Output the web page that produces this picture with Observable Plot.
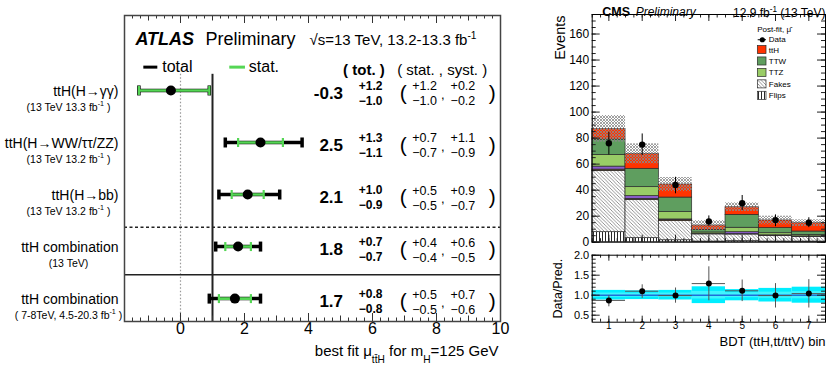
<!DOCTYPE html>
<html><head><meta charset="utf-8">
<script src="https://cdn.jsdelivr.net/npm/d3@7"></script>
<script src="https://cdn.jsdelivr.net/npm/@observablehq/plot@0.6"></script>
<style>
html,body{margin:0;padding:0;background:#fff;}
#wrap{position:relative;width:830px;height:376px;overflow:hidden;background:#fff;}
#wrap svg{position:absolute;overflow:visible;background:transparent;}
</style></head><body><div id="wrap"></div>
<script>
// ================= DATA =================
// ATLAS (left): best-fit signal strength per channel
const channels = ["ttH(H→γγ)", "ttH(H→WW/ττ/ZZ)", "ttH(H→bb)", "ttH combination", "ttH combination"];
const channelNotes = ["(13 TeV 13.3 fb^{-1} )", "(13 TeV 13.2 fb^{-1} )", "(13 TeV 13.2 fb^{-1} )", "(13 TeV)", "( 7-8TeV, 4.5-20.3 fb^{-1} )"];
const muBest = [-0.3, 2.5, 2.1, 1.8, 1.7];
const totUp = [1.2, 1.3, 1.0, 0.7, 0.8];
const totDown = [1.0, 1.1, 0.9, 0.7, 0.8];
const statUp = [1.2, 0.7, 0.5, 0.4, 0.5];
const statDown = [1.0, 0.7, 0.5, 0.4, 0.5];
const systUp = [0.2, 1.1, 0.9, 0.6, 0.7];
const systDown = [0.2, 0.9, 0.7, 0.5, 0.6];
const muTickLabels = [0, 2, 4, 6, 8, 10];

// CMS (right): post-fit yields per BDT bin
const bdtBins = [1, 2, 3, 4, 5, 6, 7];
const flips = [7.7, 3.1, 1.5, 0.5, 0.8, 0.5, 0.5];
const fakes = [47.1, 29.4, 14.7, 5.5, 5.1, 4.3, 3.6];
const rares = [1.0, 0.8, 1.0, 0.3, 0.3, 0.3, 0.2];
const others = [2.3, 2.1, 0.3, 0.2, 1.5, 0.2, 0.2];
const ttZ = [9.0, 6.9, 5.6, 1.0, 3.4, 1.6, 1.1];
const ttW = [11.8, 14.1, 11.2, 1.8, 9.9, 3.9, 2.6];
const ttH = [8.2, 11.5, 10.0, 3.5, 5.9, 5.9, 6.4];
const predUnc = [10.2, 7.7, 5.4, 3.7, 3.3, 3.3, 2.6];
const dataYield = [76, 75, 44, 16, 30, 17, 15];
const dataErrUp = [8.5, 8.2, 5.9, 4.2, 5.9, 4.0, 3.8];
const dataErrDown = [8.9, 8.4, 6.8, 3.8, 5.7, 5.1, 3.8];
const ratioVal = [0.87, 1.10, 0.99, 1.29, 1.11, 0.99, 1.04];
const ratioErrUp = [0.12, 0.16, 0.19, 0.42, 0.27, 0.30, 0.35];
const ratioErrDown = [0.16, 0.18, 0.19, 0.43, 0.27, 0.31, 0.36];
const ratioBand = [0.12, 0.11, 0.12, 0.21, 0.14, 0.17, 0.20];
const eventsTicks = [0, 20, 40, 60, 80, 100, 120, 140, 160];
const ratioTicks = [0.5, 1.0, 1.5, 2.0];
const legendNames = ["ttH", "TTW", "TTZ", "Fakes", "Flips"];

// ================= HELPERS =================
const FONT = "'Liberation Sans', Arial, Helvetica, sans-serif";
const wrap = document.getElementById("wrap");
const green = "#55d655";
const vbar = {draw(ctx, size) { const r = Math.sqrt(size / Math.PI); ctx.moveTo(0, -r); ctx.lineTo(0, r); }};
const fmtV = v => (v < 0 ? "-" : "") + Math.abs(v).toFixed(1);
const fmtU = v => "+" + v.toFixed(1);
const fmtD = v => "\u2212" + v.toFixed(1);

function place(svg, left, top) {
  svg.style.left = left + "px";
  svg.style.top = top + "px";
  wrap.appendChild(svg);
}
function richText(root) {
  root.querySelectorAll("text").forEach(el => {
    if (el.querySelector("tspan")) return;
    const t = el.textContent;
    if (!/[_^]\{/.test(t)) return;
    const fs = parseFloat(getComputedStyle(el).fontSize) || 12;
    el.textContent = "";
    const re = /([_^])\{([^}]*)\}/g;
    let last = 0, cur = 0, m;
    const add = (s, target, small) => {
      const ts = document.createElementNS("http://www.w3.org/2000/svg", "tspan");
      ts.textContent = s;
      const dy = target - cur;
      if (dy) ts.setAttribute("dy", dy);
      if (small) ts.setAttribute("font-size", fs * 0.68);
      cur = target;
      el.appendChild(ts);
    };
    while ((m = re.exec(t))) {
      if (m.index > last) add(t.slice(last, m.index), 0, false);
      add(m[2], m[1] === "_" ? fs * 0.5 : -fs * 0.45, true);
      last = re.lastIndex;
    }
    if (last < t.length) add(t.slice(last), 0, false);
  });
}

// ================= ATLAS PANEL =================
const rows = channels.map((c, i) => ({
  i, label: c, note: channelNotes[i], mu: muBest[i],
  tLo: muBest[i] - totDown[i], tHi: muBest[i] + totUp[i],
  sLo: muBest[i] - statDown[i], sHi: muBest[i] + statUp[i],
  tu: totUp[i], td: totDown[i], su: statUp[i], sd: statDown[i], yu: systUp[i], yd: systDown[i]
}));
const aFrameH = 376 - 15 - 55;
const quarterTicks = d3.range(-1.75, 10.001, 0.25);
const oddTicks = [-1, 1, 3, 5, 7, 9];
const textDy = 3;

const atlas = Plot.plot({
  width: 510, height: 376, marginLeft: 124, marginRight: 10, marginTop: 15, marginBottom: 55,
  x: {domain: [-1.75, 10], axis: null},
  y: {domain: [-1.44, 4.44], reverse: true, axis: null},
  style: {fontFamily: FONT, fontSize: "12px", color: "black", background: "transparent", overflow: "visible"},
  marks: [
    Plot.ruleX([0], {y1: -0.31, y2: 4.44, stroke: "#999", strokeWidth: 1.2, strokeDasharray: "1.5,2"}),
    Plot.ruleX([1], {y1: -0.31, y2: 4.44, stroke: "#222", strokeWidth: 2}),
    Plot.ruleY([2.63], {stroke: "#222", strokeWidth: 1.5, strokeDasharray: "3,2.5"}),
    Plot.ruleY([3.54], {stroke: "#222", strokeWidth: 1.5}),
    // total uncertainty
    Plot.ruleY(rows, {y: "i", x1: "tLo", x2: "tHi", stroke: "black", strokeWidth: 3.5}),
    Plot.dot(rows, {x: "tLo", y: "i", symbol: vbar, r: 5, fill: "none", stroke: "black", strokeWidth: 3.5}),
    Plot.dot(rows, {x: "tHi", y: "i", symbol: vbar, r: 5, fill: "none", stroke: "black", strokeWidth: 3.5}),
    // stat uncertainty
    Plot.ruleY(rows, {y: "i", x1: "sLo", x2: "sHi", stroke: green, strokeWidth: 2.6}),
    Plot.dot(rows, {x: "sLo", y: "i", symbol: vbar, r: 4.5, fill: "none", stroke: green, strokeWidth: 2.2}),
    Plot.dot(rows, {x: "sHi", y: "i", symbol: vbar, r: 4.5, fill: "none", stroke: green, strokeWidth: 2.2}),
    Plot.dot(rows, {x: "mu", y: "i", r: 5, fill: "black", stroke: "none"}),
    // row labels
    Plot.text(rows, {y: "i", text: "label", frameAnchor: "left", textAnchor: "end", dx: -6, dy: 1, fontSize: 14}),
    Plot.text(rows, {y: "i", text: "note", frameAnchor: "left", textAnchor: "middle", dx: -56, dy: 17, fontSize: 10.5}),
    // numeric columns
    Plot.text(rows, {x: 5.08, y: "i", text: d => fmtV(d.mu), textAnchor: "end", dy: textDy, fontSize: 17, fontWeight: "bold"}),
    Plot.text(rows, {x: 5.57, y: "i", text: d => fmtU(d.tu), textAnchor: "start", dy: textDy - 7, fontSize: 12, fontWeight: "bold"}),
    Plot.text(rows, {x: 5.57, y: "i", text: d => fmtD(d.td), textAnchor: "start", dy: textDy + 8, fontSize: 12, fontWeight: "bold"}),
    Plot.text(rows, {x: 6.96, y: "i", text: d => "(", dy: textDy, fontSize: 21}),
    Plot.text(rows, {x: 7.24, y: "i", text: d => fmtU(d.su), textAnchor: "start", dy: textDy - 7, fontSize: 12.5}),
    Plot.text(rows, {x: 7.24, y: "i", text: d => fmtD(d.sd), textAnchor: "start", dy: textDy + 8, fontSize: 12.5}),
    Plot.text(rows, {x: 8.2, y: "i", text: d => ",", dy: textDy + 1, fontSize: 13}),
    Plot.text(rows, {x: 8.44, y: "i", text: d => fmtU(d.yu), textAnchor: "start", dy: textDy - 7, fontSize: 12.5}),
    Plot.text(rows, {x: 8.44, y: "i", text: d => fmtD(d.yd), textAnchor: "start", dy: textDy + 8, fontSize: 12.5}),
    Plot.text(rows, {x: 9.74, y: "i", text: d => ")", dy: textDy, fontSize: 21}),
    // headers
    Plot.text(["ATLAS"], {x: -1.41, y: -0.98, text: d => d, textAnchor: "start", fontSize: 18, fontWeight: "bold", fontStyle: "italic"}),
    Plot.text(["Preliminary"], {x: 0.78, y: -0.98, text: d => d, textAnchor: "start", fontSize: 18}),
    Plot.text(["√s=13 TeV, 13.2-13.3 fb^{-1}"], {x: 4.03, y: -0.96, text: d => d, textAnchor: "start", fontSize: 15}),
    Plot.ruleY([-0.448], {x1: -1.146, x2: -0.709, stroke: "black", strokeWidth: 3}),
    Plot.text(["total"], {x: -0.572, y: -0.448, text: d => d, textAnchor: "start", fontSize: 16}),
    Plot.ruleY([-0.448], {x1: 1.54, x2: 2.03, stroke: green, strokeWidth: 3}),
    Plot.text(["stat."], {x: 2.135, y: -0.448, text: d => d, textAnchor: "start", fontSize: 16}),
    Plot.text(["( tot. )"], {x: 5.08, y: -0.384, text: d => d, textAnchor: "start", fontSize: 15, fontWeight: "bold"}),
    Plot.text(["( stat. , syst. )"], {x: 6.77, y: -0.384, text: d => d, textAnchor: "start", fontSize: 15}),
    // ticks
    Plot.ruleX(quarterTicks, {insetTop: aFrameH - 3.5, stroke: "#333"}),
    Plot.ruleX(quarterTicks, {insetBottom: aFrameH - 3.5, stroke: "#333"}),
    Plot.ruleX(oddTicks, {insetTop: aFrameH - 5.5, stroke: "#333"}),
    Plot.ruleX(oddTicks, {insetBottom: aFrameH - 5.5, stroke: "#333"}),
    Plot.ruleX(muTickLabels, {insetTop: aFrameH - 8, stroke: "#333"}),
    Plot.ruleX(muTickLabels, {insetBottom: aFrameH - 8, stroke: "#333"}),
    Plot.text(muTickLabels, {x: d => d, text: d => String(d), frameAnchor: "bottom", dy: 12, fontSize: 16}),
    Plot.text(["best fit μ_{tt̄H} for m_{H}=125 GeV"], {frameAnchor: "bottom-right", text: d => d, textAnchor: "end", dx: -2, dy: 34, fontSize: 15}),
    Plot.frame({stroke: "#444", strokeWidth: 1.5})
  ]
});
place(atlas, 0, 0);

// ================= CMS PANEL =================
const comps = [
  {name: "Flips", vals: flips, fill: "url(#pFlips)"},
  {name: "Fakes", vals: fakes, fill: "url(#pFakes)"},
  {name: "Rares", vals: rares, fill: "#7a4a1a"},
  {name: "Other", vals: others, fill: "#8a5cc8"},
  {name: "TTZ", vals: ttZ, fill: "#99cc66"},
  {name: "TTW", vals: ttW, fill: "#5f9e5f"},
  {name: "ttH", vals: ttH, fill: "#ff3300"}
];
const stackRows = [];
bdtBins.forEach((b, j) => {
  let base = 0;
  comps.forEach(c => { const v = c.vals[j]; stackRows.push({bin: b, comp: c.name, y1: base, y2: base + v}); base += v; });
});
const binRows = bdtBins.map((b, j) => ({
  bin: b, lo: b - 0.5, hi: b + 0.5,
  total: d3.sum(comps, c => c.vals[j]), unc: predUnc[j],
  data: dataYield[j], up: dataErrUp[j], dn: dataErrDown[j],
  ratio: ratioVal[j], rup: ratioErrUp[j], rdn: ratioErrDown[j], rband: ratioBand[j]
}));
const fillOf = Object.fromEntries(comps.map(c => [c.name, c.fill]));
const legendRows = legendNames.map((n, k) => ({name: n, y: 147.7 - k * 8.8, fill: fillOf[n]}));

const uFrameW = 310 - 71.7 - 5, uFrameH = 250 - 14 - 8.3;
const binQuarter = d3.range(0.5, 7.501, 0.25);
const evMinor = d3.range(0, 175.1, 5);

const upper = Plot.plot({
  width: 310, height: 250, marginLeft: 71.7, marginRight: 5, marginTop: 14, marginBottom: 8.3,
  x: {domain: [0.5, 7.5], axis: null},
  y: {domain: [0, 175], axis: null},
  style: {fontFamily: FONT, fontSize: "12px", color: "black", background: "transparent", overflow: "visible"},
  marks: [
    ...comps.map(c => Plot.rect(stackRows.filter(r => r.comp === c.name), {
      x1: d => d.bin - 0.5, x2: d => d.bin + 0.5, y1: "y1", y2: "y2",
      fill: c.fill, stroke: "#2a2a2a", strokeWidth: 0.7})),
    Plot.rect(binRows, {x1: "lo", x2: "hi", y1: d => d.total - d.unc, y2: d => d.total + d.unc, fill: "url(#pBand)"}),
    Plot.ruleX(binRows, {x: "bin", y1: d => d.data - d.dn, y2: d => d.data + d.up, stroke: "black", strokeWidth: 1}),
    Plot.dot(binRows, {x: "bin", y: "data", r: 3.2, fill: "black"}),
    // legend
    Plot.text(["Post-fit, μ̂"], {x: 5.45, y: 163.8, text: d => d, textAnchor: "start", fontSize: 8}),
    Plot.ruleY([155.6], {x1: 5.48, x2: 5.73, stroke: "black", strokeWidth: 1}),
    Plot.dot([155.6], {x: 5.605, y: d => d, r: 2.6, fill: "black"}),
    Plot.text(["Data"], {x: 5.80, y: 155.6, text: d => d, textAnchor: "start", fontSize: 8}),
    Plot.rect(legendRows, {x1: 5.47, x2: 5.73, y1: d => d.y - 3.1, y2: d => d.y + 3.1, fill: d => d.fill, stroke: "#2a2a2a", strokeWidth: 0.7}),
    Plot.text(legendRows, {x: 5.80, y: "y", text: "name", textAnchor: "start", fontSize: 8}),
    // ticks
    Plot.ruleY(evMinor, {insetRight: uFrameW - 4, stroke: "#222"}),
    Plot.ruleY(evMinor, {insetLeft: uFrameW - 4, stroke: "#222"}),
    Plot.ruleY(eventsTicks, {insetRight: uFrameW - 8, stroke: "#222"}),
    Plot.ruleY(eventsTicks, {insetLeft: uFrameW - 8, stroke: "#222"}),
    Plot.ruleX(binQuarter, {insetTop: uFrameH - 3.5, stroke: "#222"}),
    Plot.ruleX(binQuarter, {insetBottom: uFrameH - 3.5, stroke: "#222"}),
    Plot.ruleX(bdtBins, {insetTop: uFrameH - 7, stroke: "#222"}),
    Plot.ruleX(bdtBins, {insetBottom: uFrameH - 7, stroke: "#222"}),
    Plot.text(eventsTicks, {y: d => d, text: d => String(d), frameAnchor: "left", textAnchor: "end", dx: -3, fontSize: 12}),
    Plot.text(["Events"], {frameAnchor: "top-left", text: d => d, rotate: -90, textAnchor: "end", dx: -37, dy: 1, fontSize: 14.5}),
    Plot.text(["CMS"], {frameAnchor: "top-left", text: d => d, textAnchor: "start", dx: 10, dy: -7, fontSize: 12.5, fontWeight: "bold"}),
    Plot.text(["Preliminary"], {frameAnchor: "top-left", text: d => d, textAnchor: "start", dx: 43.5, dy: -7, fontSize: 12, fontStyle: "italic"}),
    Plot.text(["12.9 fb^{-1} (13 TeV)"], {frameAnchor: "top-right", text: d => d, textAnchor: "end", dx: 0, dy: -6, fontSize: 12}),
    Plot.frame({stroke: "black", strokeWidth: 1})
  ]
});
place(upper, 520, 0);

const lFrameW = 310 - 71.7 - 5, lFrameH = 126 - 4.7 - 54.3;
const ratioMinor = d3.range(0.4, 2.001, 0.1);
const lower = Plot.plot({
  width: 310, height: 126, marginLeft: 71.7, marginRight: 5, marginTop: 4.7, marginBottom: 54.3,
  x: {domain: [0.5, 7.5], axis: null},
  y: {domain: [0.325, 2.0], axis: null},
  style: {fontFamily: FONT, fontSize: "12px", color: "black", background: "transparent", overflow: "visible"},
  marks: [
    Plot.rect(binRows, {x1: "lo", x2: "hi", y1: d => 1 - d.rband, y2: d => 1 + d.rband, fill: "#00eeff"}),
    Plot.rect(binRows, {x1: "lo", x2: "hi", y1: d => 1 - d.rband * 0.45, y2: d => 1 + d.rband * 0.45, fill: "#40f4ff"}),
    Plot.ruleY([1], {stroke: "#1e6fd9", strokeWidth: 1.5}),
    Plot.ruleY(binRows, {y: "ratio", x1: "lo", x2: "hi", stroke: "#555", strokeWidth: 1}),
    Plot.ruleX(binRows, {x: "bin", y1: d => d.ratio - d.rdn, y2: d => d.ratio + d.rup, stroke: "#555", strokeWidth: 1}),
    Plot.dot(binRows, {x: "bin", y: "ratio", r: 3, fill: "black"}),
    Plot.ruleY(ratioMinor, {insetRight: lFrameW - 4, stroke: "#222"}),
    Plot.ruleY(ratioMinor, {insetLeft: lFrameW - 4, stroke: "#222"}),
    Plot.ruleY(ratioTicks, {insetRight: lFrameW - 8, stroke: "#222"}),
    Plot.ruleY(ratioTicks, {insetLeft: lFrameW - 8, stroke: "#222"}),
    Plot.ruleX(binQuarter, {insetTop: lFrameH - 3, stroke: "#222"}),
    Plot.ruleX(binQuarter, {insetBottom: lFrameH - 3, stroke: "#222"}),
    Plot.ruleX(bdtBins, {insetTop: lFrameH - 6, stroke: "#222"}),
    Plot.ruleX(bdtBins, {insetBottom: lFrameH - 6, stroke: "#222"}),
    Plot.text(ratioTicks, {y: d => d, text: d => d.toFixed(1), frameAnchor: "left", textAnchor: "end", dx: -3, fontSize: 11}),
    Plot.text(bdtBins, {x: d => d, text: d => String(d), frameAnchor: "bottom", dy: 7, fontSize: 10}),
    Plot.text(["Data/Pred."], {frameAnchor: "left", text: d => d, rotate: -90, textAnchor: "middle", dx: -34, fontSize: 12.5}),
    Plot.text(["BDT (ttH,tt/ttV) bin"], {frameAnchor: "bottom-right", text: d => d, textAnchor: "end", dy: 24, fontSize: 13}),
    Plot.frame({stroke: "black", strokeWidth: 1})
  ]
});
place(lower, 520, 250);

// hatch patterns (ROOT-style fill styles)
d3.select(upper).insert("defs", ":first-child").html(`
  <pattern id="pFakes" patternUnits="userSpaceOnUse" width="3.5" height="3.5">
    <rect width="3.5" height="3.5" fill="white"/>
    <path d="M-1,-1L4.5,4.5M-1,2.5L1,4.5M2.5,-1L4.5,1" stroke="#666" stroke-width="0.7"/>
  </pattern>
  <pattern id="pFlips" patternUnits="userSpaceOnUse" width="3" height="3">
    <rect width="3" height="3" fill="white"/>
    <path d="M1.5,0L1.5,3" stroke="#111" stroke-width="0.9"/>
  </pattern>
  <pattern id="pBand" patternUnits="userSpaceOnUse" width="3" height="3">
    <path d="M0,0L3,3M3,0L0,3" stroke="#8a8a8a" stroke-width="0.8"/>
  </pattern>`);

richText(wrap);
</script></body></html>
